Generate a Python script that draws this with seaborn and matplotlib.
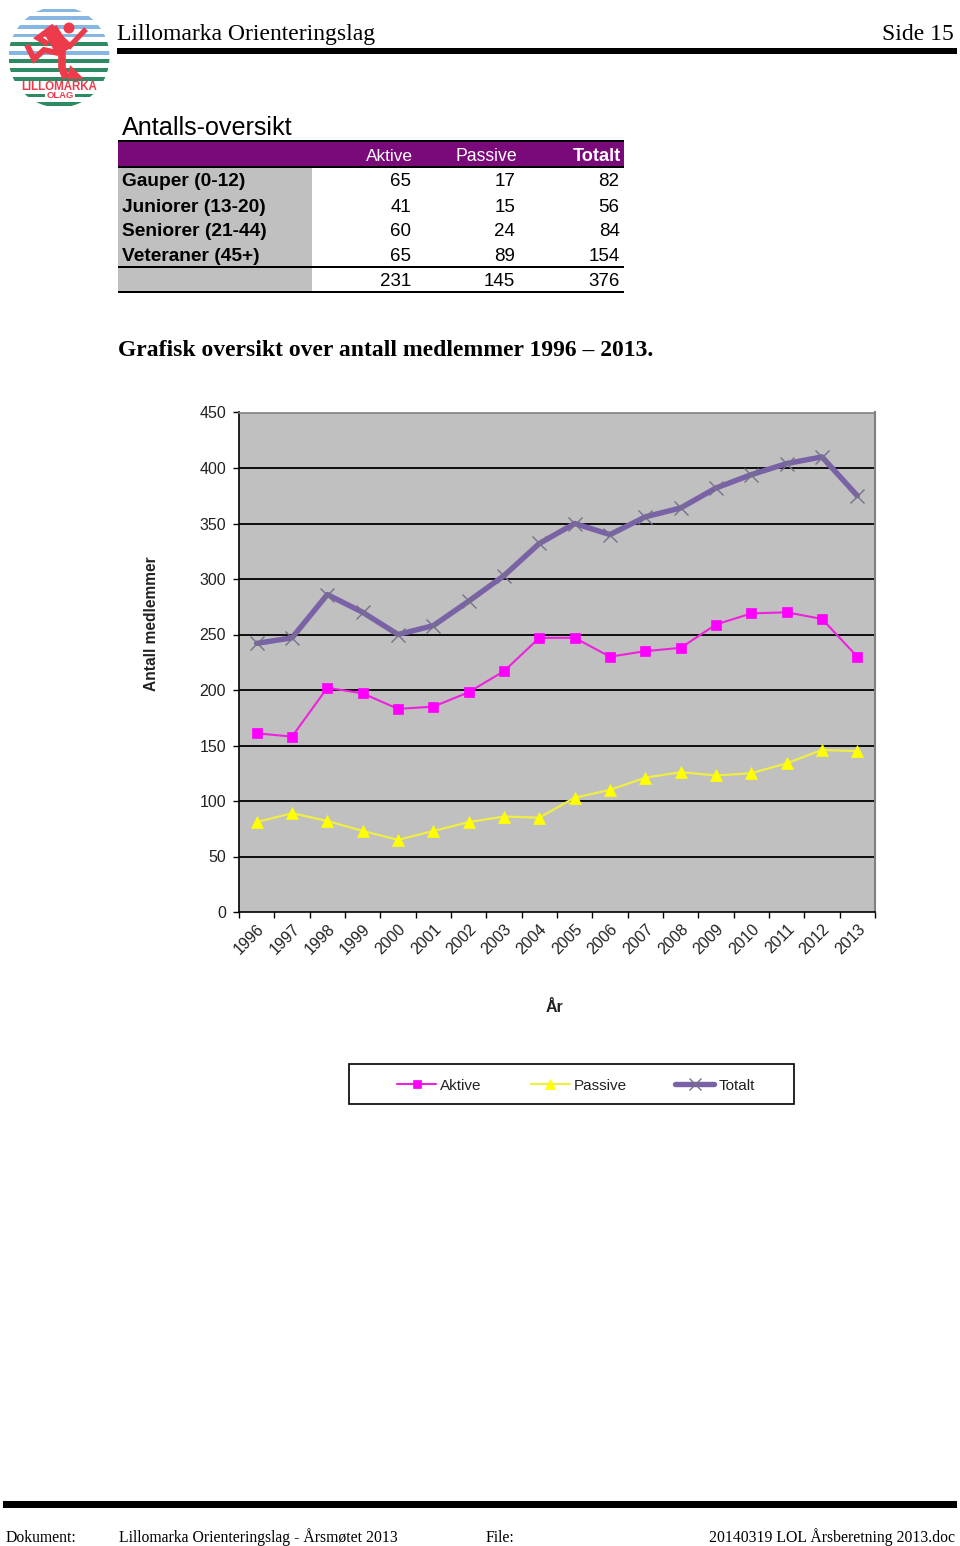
import matplotlib
matplotlib.use("Agg")
import matplotlib.pyplot as plt
import matplotlib.patches as mp
from matplotlib.transforms import ScaledTranslation
import numpy as np
import pandas as pd
import seaborn as sns

years = list(range(1996, 2014))
aktive = [161,158,202,197,183,185,198,217,247,247,230,235,238,259,269,270,264,230]
passive = [81,89,82,73,65,73,81,86,85,103,110,121,126,123,125,134,146,145]
totalt = [242,247,286,270,250,258,280,303,332,350,340,356,364,382,394,404,410,375]

table_cols = ["Aktive", "Passive", "Totalt"]
table_rows = ["Gauper (0-12)", "Juniorer (13-20)", "Seniorer (21-44)", "Veteraner (45+)"]
table_vals = [[65,17,82],[41,15,56],[60,24,84],[65,89,154]]
table_sum = [231,145,376]

W, H = 960, 1546
sns.set_theme(style="white")
SANS = "Liberation Sans"
SERIF = "Liberation Serif"
plt.rcParams["font.family"] = [SANS, "DejaVu Sans"]

fig = plt.figure(figsize=(W/100, H/100), dpi=100, facecolor="white")

# page overlay in pixel coordinates
pg = fig.add_axes([0, 0, 1, 1], zorder=0)
pg.set_xlim(0, W); pg.set_ylim(H, 0); pg.axis("off")

def rect(x0, y0, x1, y1, c, z=1):
    pg.add_patch(mp.Rectangle((x0, y0), x1-x0, y1-y0, fc=c, ec="none", zorder=z))

def txt(x, y, s, size, fam=SANS, ha="left", weight="normal", color="black", **kw):
    pg.text(x, y, s, fontsize=size, family=fam, ha=ha, va="baseline", weight=weight, color=color, **kw)

# logo
cx, cy, R = 59, 57, 50.5
clip = mp.Circle((cx, cy), R, transform=pg.transData)
blue = "#86b6e2"; green = "#2e8a62"
stripes = [(10,blue,3),(18,blue,3.5),(27,blue,4),(35.5,blue,3.5),(43.5,green,4),(52.5,blue,4),
           (61,green,4),(70,green,4),(79,green,3.5),(95.5,green,3.5),(104,green,3.5)]
for y, c, t in stripes:
    r = pg.add_patch(mp.Rectangle((cx-R, y-t/2), 2*R, t, fc=c, ec="none", zorder=2))
    r.set_clip_path(clip)
rect(45, 90, 75, 100, "white", z=2.5)
red = "#ee3b4b"
pg.add_patch(mp.Circle((69, 28), 5.5, fc=red, ec="none", zorder=3))
limbs = [([50,64], [29,52], 11),          # torso
         ([58,70,86], [35,46,29], 3.8),   # front arm
         ([54,38,48], [26,38,44], 4),     # back arm
         ([58,44,34,27], [53,50,59,45], 4.2),  # back leg
         ([62,62,66], [50,68,78], 5.5)]   # front leg
for xs, ys, lw in limbs:
    pg.plot(xs, ys, color=red, lw=lw, solid_capstyle="butt", solid_joinstyle="miter", zorder=3)
pg.add_patch(mp.Polygon([(70,65),(84,79),(67,79)], fc=red, ec="none", zorder=3))
pg.set_xlim(0, W); pg.set_ylim(H, 0)
pg.text(59.5, 86.5, "LILLOMARKA", fontsize=8.3, weight="bold", color=red, ha="center", va="center", zorder=4)
pg.text(60, 95, "OLAG", fontsize=6.8, weight="bold", color=red, ha="center", va="center", zorder=4)

# header / footer
txt(117, 40, "Lillomarka Orienteringslag", 17, SERIF)
txt(954, 40, "Side 15", 17, SERIF, ha="right")
rect(117, 47.5, 957, 53.5, "black")
rect(3, 1501, 957, 1507.5, "black")
txt(6, 1542, "Dokument:", 11.35, SERIF)
txt(119, 1542, "Lillomarka Orienteringslag - Årsmøtet 2013", 11.35, SERIF)
txt(486, 1542, "File:", 11.35, SERIF)
txt(955, 1542, "20140319 LOL Årsberetning 2013.doc", 11.35, SERIF, ha="right")

# table
txt(122, 135, "Antalls-oversikt", 18.1)
rect(118, 140, 624, 167, "#7a0a7a")
rect(118, 140, 624, 142, "black")
rect(118, 166, 624, 167.5, "black")
rect(118, 167.5, 312, 292, "#c0c0c0")
colx = [411, 515, 619.5]
for x, s, off, w, fs in zip(colx, table_cols, [2, 2, 1.5], ["normal", "normal", "bold"], [12.4, 12.7, 13.1]):
    txt(x+off, 161, s, fs, ha="right", color="white", weight=w)
rows_y = [186.5, 211.5, 236, 261]
for y, name, vals in zip(rows_y, table_rows, table_vals):
    txt(122, y, name, 13.75, weight="bold")
    for x, v in zip(colx, vals):
        txt(x, y, str(v), 13.5, ha="right")
for x, v in zip(colx, table_sum):
    txt(x, 286, str(v), 13.5, ha="right")
rect(118, 266, 624, 267.5, "black")
rect(118, 291, 624, 293, "black")
txt(118, 355.5, "Grafisk oversikt over antall medlemmer 1996 – 2013.", 17, SERIF, weight="bold")

# chart
L, R_, T, B = 239, 875, 412.5, 912
ax = fig.add_axes([L/W, 1-B/H, (R_-L)/W, (B-T)/H], zorder=1, facecolor="#c0c0c0")
df = pd.DataFrame({"pos": np.arange(len(years)), "Aktive": aktive, "Passive": passive, "Totalt": totalt})
styles = {
    "Aktive": dict(color="#ee22dd", lw=1.5, marker="s", ms=7.3, mfc="#ff00ff", mec="#ff00ff"),
    "Passive": dict(color="#eeee44", lw=1.6, marker="^", ms=8.2, mfc="#ffff00", mec="#ffff00"),
    "Totalt": dict(color="#7a62a6", lw=3.9, marker="x", ms=10, mfc="none", mec="#77708c", mew=1),
}
for name in ["Totalt", "Aktive", "Passive"]:
    st = styles[name]
    sns.lineplot(data=df, x="pos", y=name, ax=ax, color=st["color"], linewidth=st["lw"],
                 marker=st["marker"], markersize=st["ms"], markerfacecolor=st["mfc"],
                 markeredgecolor=st["mec"], markeredgewidth=st.get("mew", 0.5), zorder=3, errorbar=None)
ax.set_xlim(-0.5, len(years)-0.5)
ax.set_ylim(0, 450)
ax.set_yticks(range(0, 451, 50))
ax.set_xticks(np.arange(len(years)+1)-0.5)
ax.set_xticklabels([])
ax.set_xticks(np.arange(len(years)), minor=True)
ax.set_xticklabels([str(y) for y in years], minor=True, rotation=45, ha="right", rotation_mode="anchor",
                   fontsize=11.5, color="#222222")
shift = ScaledTranslation(-3/100, 0, fig.dpi_scale_trans)
for lab in ax.get_xticklabels(minor=True):
    lab.set_transform(lab.get_transform() + shift)
ax.tick_params(axis="x", which="minor", length=0, pad=7)
ax.tick_params(axis="x", which="major", length=4, width=1, color="black", bottom=True)
ax.tick_params(axis="y", length=4, width=1, color="black", left=True, labelsize=11.5, labelcolor="#222222", pad=5.2)
ax.grid(False)
for y in range(50, 401, 50):
    ax.axhline(y, color="black", lw=1.3, zorder=2)
ax.spines["left"].set_color("black"); ax.spines["bottom"].set_color("black")
ax.spines["left"].set_linewidth(1.2); ax.spines["bottom"].set_linewidth(1.2)
ax.spines["top"].set_color("#808080"); ax.spines["right"].set_color("#808080")
ax.spines["top"].set_linewidth(1.2); ax.spines["right"].set_linewidth(1.5)
ax.set_xlabel(""); ax.set_ylabel("")

pg.text(151, 624, "Antall medlemmer", fontsize=11.2, weight="bold", rotation=90, ha="center", va="center", color="#222222")
pg.text(554.5, 1007, "År", fontsize=11.5, weight="bold", ha="center", va="center", color="#222222")

# legend box and entries
pg.add_patch(mp.Rectangle((348.5, 1063.5), 445.5, 40.5, fc="white", ec="black", lw=1.2, zorder=1))
handles = [plt.Line2D([], [], color=styles[n]["color"], lw=styles[n]["lw"], marker=styles[n]["marker"],
                      ms=styles[n]["ms"]*0.8, mfc=styles[n]["mfc"], mec=styles[n]["mec"],
                      mew=styles[n].get("mew", 0.5)) for n in table_cols]
leg = fig.legend(handles, table_cols, ncol=3, loc="center", bbox_to_anchor=(576/W, 1-1085.5/H),
                 frameon=False, fontsize=11, handlelength=2.55, columnspacing=3.2, handletextpad=0.25,
                 borderpad=0, borderaxespad=0)
for t in leg.get_texts():
    t.set_color("#222222")

fig.savefig("out.png", dpi=100)
